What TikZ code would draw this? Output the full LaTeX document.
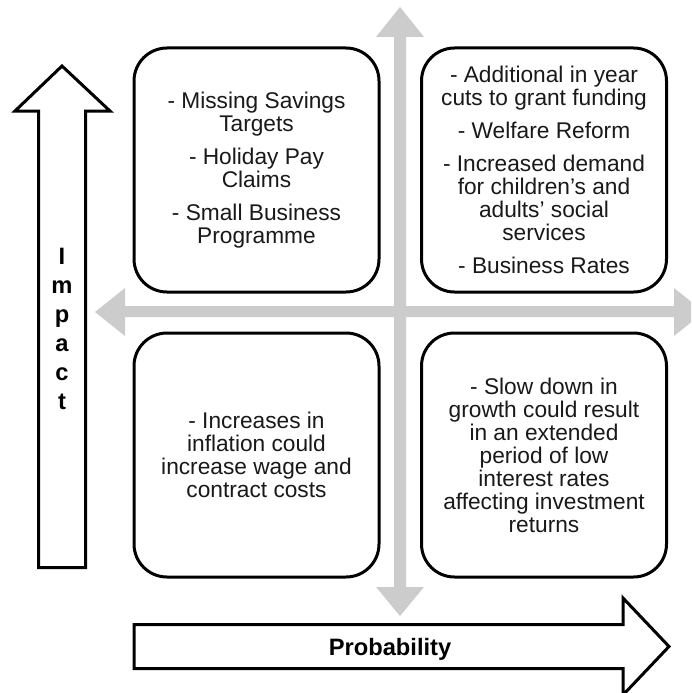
\documentclass[tikz,border=0pt]{standalone}
\usepackage{fontspec}
\setmainfont{Liberation Sans}
\definecolor{axisgray}{HTML}{CCCCCC}
\begin{document}
\begin{tikzpicture}[x=1pt,y=-1pt,
  axisarrow/.style={fill=axisgray,draw=none},
  bigarrow/.style={draw=black,line width=3pt,fill=white,line join=miter},
  quad/.style={draw=black,line width=3pt,rounded corners=33pt,fill=white,
    minimum width=245pt,minimum height=244pt,inner sep=0pt,align=center,
    font=\fontsize{22.7}{23}\selectfont,text=black!90},
  axislabel/.style={font=\bfseries\fontsize{23.7}{29}\selectfont,inner sep=0pt,align=center}]
\useasboundingbox (0,0) rectangle (691,693);
\clip (0,0) rectangle (691,693);

% grey quadrant axes
\fill[axisarrow] (394,37) -- (376,37) -- (400,7) -- (424,37) -- (406,37)
  -- (406,587) -- (424,587) -- (400,616) -- (376,587) -- (394,587) -- cycle;
\fill[axisarrow] (125,306) -- (125,288) -- (95,312) -- (125,336) -- (125,317)
  -- (674,317) -- (674,336) -- (704,312) -- (674,288) -- (674,306) -- cycle;

% impact and probability block arrows
\draw[bigarrow] (38.5,567.5) -- (38.5,111) -- (15,111) -- (62,66) -- (110,111)
  -- (85.5,111) -- (85.5,567.5) -- cycle;
\draw[bigarrow] (134,624.5) -- (623,624.5) -- (623,598) -- (669,646.5)
  -- (623,695) -- (623,668.5) -- (134,668.5) -- cycle;
\node[axislabel] (impact) at (62,328.5) {I\\m\\p\\a\\c\\t};
\node[axislabel,anchor=base] (probability) at (390,655) {Probability};

% the four quadrants
\node[quad] (tl) at (256.5,170) {- Missing Savings\\Targets\\[10pt]
  - Holiday Pay\\Claims\\[10pt]
  - Small Business\\Programme};
\node[quad] (tr) at (544,170) {- Additional in year\\cuts to grant funding\\[10pt]
  - Welfare Reform\\[10pt]
  - Increased demand\\for children’s and\\adults’ social\\services\\[10pt]
  - Business Rates};
\node[quad] (bl) at (256.5,455) {- Increases in\\inflation could\\increase wage and\\contract costs};
\node[quad] (br) at (544,455) {- Slow down in\\growth could result\\in an extended\\period of low\\interest rates\\affecting investment\\returns};
\end{tikzpicture}
\end{document}
